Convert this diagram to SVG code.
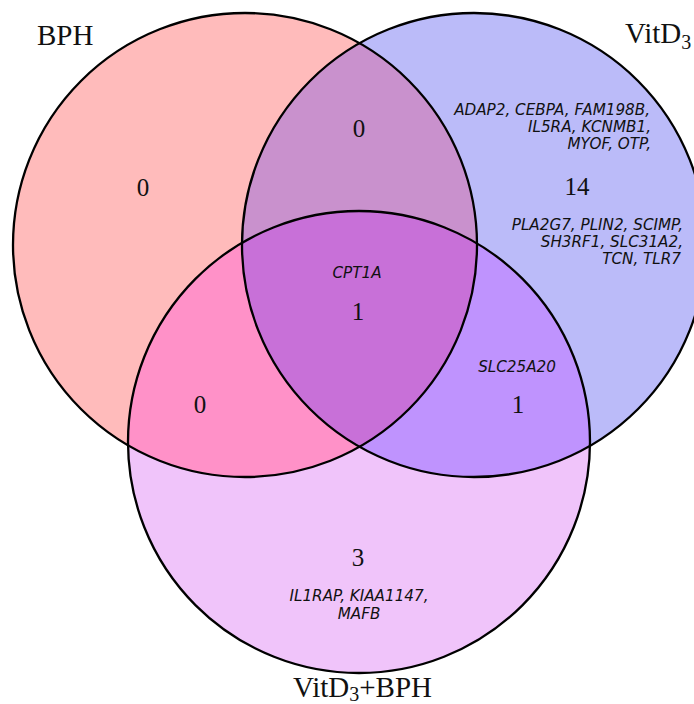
<svg xmlns="http://www.w3.org/2000/svg" width="694" height="704" viewBox="0 0 694 704">
<style>
.lbl{font-family:"Liberation Serif","Times New Roman",serif;font-size:29px;fill:#111}
.sub{font-size:20px}
.num{font-family:"Liberation Serif","Times New Roman",serif;font-size:25px;fill:#111;text-anchor:middle}
.gene{font-family:"DejaVu Sans",sans-serif;font-style:italic;font-size:15.2px;fill:#111}
.mid{text-anchor:middle}
.end{text-anchor:end}
.edge{fill:none;stroke:#000;stroke-width:2.3}
</style>
<defs>
<clipPath id="clipA"><circle cx="245" cy="245" r="232"/></clipPath>
<clipPath id="clipB"><circle cx="474" cy="245" r="232"/></clipPath>
</defs>
<rect width="694" height="704" fill="#fff"/>
<g id="regions">
<circle cx="245" cy="245" r="232" fill="#FFBBBB"/>
<circle cx="474" cy="245" r="232" fill="#BBBBF9"/>
<circle cx="359" cy="442" r="231" fill="#F0C4FA"/>
<g clip-path="url(#clipA)">
<circle cx="474" cy="245" r="232" fill="#C991CD"/>
<circle cx="359" cy="442" r="231" fill="#FF91C8"/>
</g>
<g clip-path="url(#clipB)">
<circle cx="359" cy="442" r="231" fill="#BF93FE"/>
</g>
<g clip-path="url(#clipA)">
<circle cx="359" cy="442" r="231" fill="#C870D8" clip-path="url(#clipB)"/>
</g>
</g>
<g id="set-BPH">
<circle class="edge" cx="245" cy="245" r="232"/>
<text class="lbl" x="37" y="45">BPH</text>
</g>
<g id="set-VitD3">
<circle class="edge" cx="474" cy="245" r="232"/>
<text class="lbl" x="625" y="43">VitD<tspan class="sub" dy="6">3</tspan></text>
</g>
<g id="set-VitD3-BPH">
<circle class="edge" cx="359" cy="442" r="231"/>
<text class="lbl" x="293" y="697">VitD<tspan class="sub" dy="4">3</tspan><tspan dy="-4">+BPH</tspan></text>
</g>
<g id="counts">
<text class="num" x="143" y="196">0</text>
<text class="num" x="359" y="137">0</text>
<text class="num" x="577" y="195">14</text>
<text class="num" x="358" y="320">1</text>
<text class="num" x="200" y="413">0</text>
<text class="num" x="518" y="413">1</text>
<text class="num" x="358" y="566">3</text>
</g>
<g id="genes">
<text class="gene end" x="650" y="115">ADAP2, CEBPA, FAM198B,</text>
<text class="gene end" x="651" y="132">IL5RA, KCNMB1,</text>
<text class="gene end" x="651" y="149">MYOF, OTP,</text>
<text class="gene end" x="683" y="230">PLA2G7, PLIN2, SCIMP,</text>
<text class="gene end" x="683" y="247">SH3RF1, SLC31A2,</text>
<text class="gene end" x="681" y="264">TCN, TLR7</text>
<text class="gene mid" x="357" y="278">CPT1A</text>
<text class="gene mid" x="517" y="372">SLC25A20</text>
<text class="gene mid" x="359" y="601">IL1RAP, KIAA1147,</text>
<text class="gene mid" x="359" y="619">MAFB</text>
</g>
</svg>
